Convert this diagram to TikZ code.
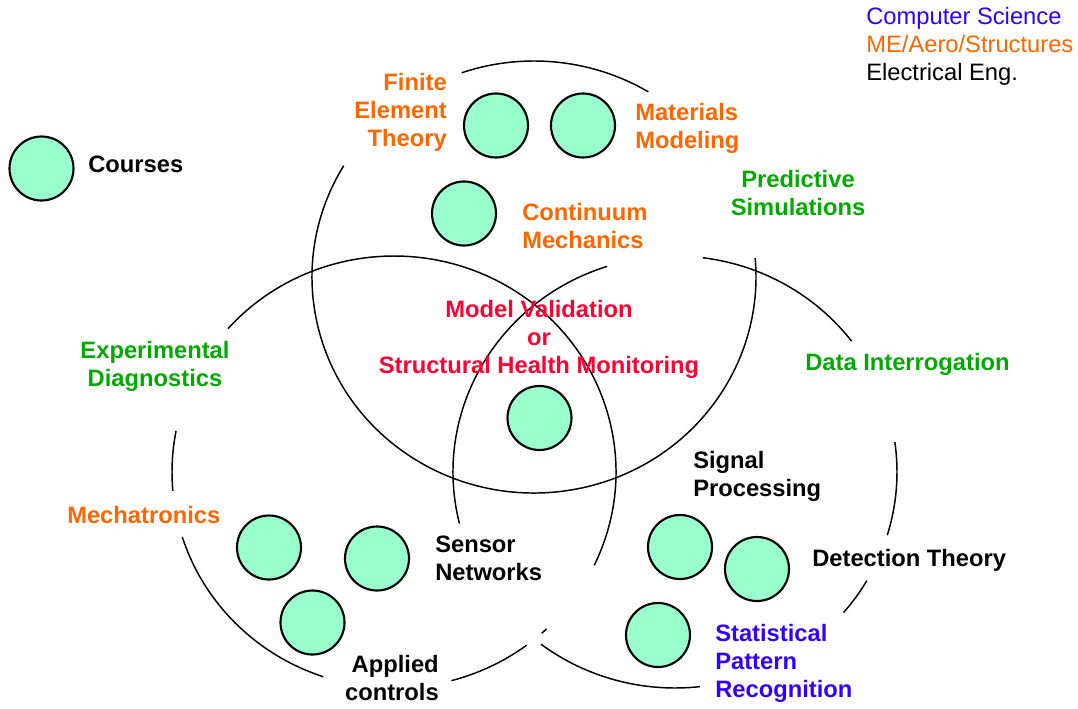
\documentclass[tikz,border=0pt]{standalone}
\usepackage{fontspec}
\setmainfont{Liberation Sans}
\definecolor{orng}{RGB}{255,102,0}
\definecolor{grn}{RGB}{0,170,0}
\definecolor{rd}{RGB}{255,0,51}
\definecolor{blu}{RGB}{51,0,255}
\definecolor{crs}{RGB}{153,255,204}
\newcommand\ringarc[3]{\draw[ring] (#1) ++(#2:166.5pt and 162pt) arc[start angle=#2, end angle=#3];}
\begin{document}
\begin{tikzpicture}[x=0.75pt,y=0.75pt,
  course/.style={circle,draw=black,fill=crs,line width=1.6pt,minimum size=48pt,inner sep=0pt},
  lbl/.style={font=\bfseries\fontsize{17.8pt}{21pt}\selectfont,inner sep=0pt},
  leg/.style={font=\fontsize{17.8pt}{21pt}\selectfont,inner sep=0pt,anchor=base west},
  ring/.style={line width=1.1pt,x radius=166.5pt,y radius=162pt}]
\useasboundingbox (0,0) rectangle (1078,-708);
% centres of the three fields
\coordinate (c1) at (534,-277);
\coordinate (c2) at (394,-472);
\coordinate (c3) at (675,-472);
% top field
\ringarc{c1}{59}{109}
\ringarc{c1}{149}{365}
% left field
\ringarc{c2}{-25.6}{138.4}
\ringarc{c2}{169}{185}
\ringarc{c2}{197.5}{251.4}
\ringarc{c2}{285}{306.7}
\ringarc{c2}{311.7}{313.4}
% right field
\ringarc{c3}{107.8}{193.8}
\ringarc{c3}{232.9}{276.5}
\ringarc{c3}{319.4}{329.8}
\ringarc{c3}{-17}{8}
\ringarc{c3}{37.3}{82.8}
% courses
\node[course] (cLeg) at (41.5,-168.5) {};
\node[course] (cFET) at (496,-125.5) {};
\node[course] (cMM) at (583,-125.5) {};
\node[course] (cCM) at (464,-213.5) {};
\node[course] (cSHM) at (539.5,-418) {};
\node[course] (cMech) at (269,-547.5) {};
\node[course] (cSens) at (377,-558.5) {};
\node[course] (cApp) at (312.5,-622.5) {};
\node[course] (cSig) at (680,-547) {};
\node[course] (cDet) at (757,-569) {};
\node[course] (cSPR) at (658,-635) {};
% legend
\node[lbl,anchor=base west] (tCourses) at (88,-172) {Courses};
\node[leg,text=blu] (tCS) at (866,-24) {Computer Science};
\node[leg,text=orng] (tME) at (866,-52) {ME/Aero/Structures};
\node[leg] (tEE) at (866,-80) {Electrical Eng.};
% labels
\node[lbl,text=orng,align=right,anchor=north east] (tFET) at (447,-70.4) {\strut Finite\\\strut Element\\\strut Theory};
\node[lbl,text=orng,align=left,anchor=north west] (tMM) at (635,-100.4) {\strut Materials\\\strut Modeling};
\node[lbl,text=orng,align=left,anchor=north west] (tCM) at (522,-200.4) {\strut Continuum\\\strut Mechanics};
\node[lbl,text=grn,align=center,anchor=north] (tPS) at (798,-167.4) {\strut Predictive\\\strut Simulations};
\node[lbl,text=rd,align=center,anchor=north] (tMV) at (539,-297.4) {\strut Model Validation\\\strut or\\\strut Structural Health Monitoring};
\node[lbl,text=grn,align=center,anchor=north] (tED) at (155,-338.4) {\strut Experimental\\\strut Diagnostics};
\node[lbl,text=grn,anchor=base west] (tDI) at (805,-370) {Data Interrogation};
\node[lbl,text=orng,anchor=base west] (tMech) at (67,-523) {Mechatronics};
\node[lbl,align=left,anchor=north west] (tSN) at (435,-532.4) {\strut Sensor\\\strut Networks};
\node[lbl,align=right,anchor=north east] (tAC) at (439,-652.4) {\strut Applied\\\strut controls};
\node[lbl,align=left,anchor=north west] (tSP) at (693,-448.4) {\strut Signal\\\strut Processing};
\node[lbl,anchor=base west] (tDT) at (812,-566) {Detection Theory};
\node[lbl,text=blu,align=left,anchor=north west] (tSPR) at (715,-621.4) {\strut Statistical\\\strut Pattern\\\strut Recognition};
\end{tikzpicture}
\end{document}
